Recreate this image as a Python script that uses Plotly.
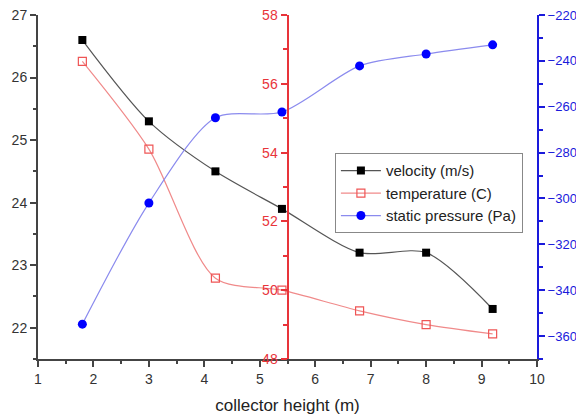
import plotly.graph_objects as go

# collector heights (m)
height = [1.8, 3.0, 4.2, 5.4, 6.8, 8.0, 9.2]
# air velocity (m/s)
velocity = [26.6, 25.3, 24.5, 23.9, 23.2, 23.2, 22.3]
# air temperature (C)
temperature = [56.65, 54.1, 50.35, 50.0, 49.4, 49.0, 48.73]
# static pressure (Pa)
pressure = [-354.8, -302.0, -264.8, -262.3, -242.2, -237.0, -233.0]

FONT = "Liberation Sans, Arial, sans-serif"
RED = "#e8343a"
BLUE = "#1a1adb"

fig = go.Figure()

fig.add_trace(go.Scatter(
    x=height, y=velocity, name="velocity (m/s)", yaxis="y",
    mode="lines+markers", line=dict(color="#555555", width=1.2, shape="spline", smoothing=0.8),
    marker=dict(symbol="square", size=8, color="black"),
))
fig.add_trace(go.Scatter(
    x=height, y=temperature, name="temperature (C)", yaxis="y2",
    mode="lines+markers", line=dict(color="#f08a8a", width=1.2, shape="spline", smoothing=0.8),
    marker=dict(symbol="square-open", size=8, color="#ef5555", line=dict(width=1.2)),
))
fig.add_trace(go.Scatter(
    x=height, y=pressure, name="static pressure (Pa)", yaxis="y3",
    mode="lines+markers", line=dict(color="#8b8bee", width=1.2, shape="spline", smoothing=0.8),
    marker=dict(symbol="circle", size=9, color="#0000ff"),
))

fig.update_layout(
    width=576, height=417,
    margin=dict(l=38, r=39, t=15, b=58, autoexpand=False),
    paper_bgcolor="white", plot_bgcolor="white",
    font=dict(family=FONT, size=13, color="#333333"),
    showlegend=True,
    legend=dict(
        x=0.595, y=0.598, xanchor="left", yanchor="top",
        bgcolor="white", bordercolor="#888888", borderwidth=1,
        font=dict(size=15, color="#222222"), tracegroupgap=0,
        itemwidth=40,
    ),
    xaxis=dict(
        range=[1, 10], dtick=1, tick0=1, automargin=False,
        showgrid=False, zeroline=False,
        showline=True, linecolor="#444444", linewidth=2,
        ticks="outside", ticklen=6, tickwidth=1.5, tickcolor="#444444",
        minor=dict(ticks="outside", dtick=0.5, ticklen=3, tickcolor="#444444"),
        title=dict(text="collector height (m)", font=dict(size=17, color="#222222"), standoff=13),
        tickfont=dict(size=14, color="#333333"),
    ),
    yaxis=dict(
        range=[21.5, 27], dtick=1, tick0=22, automargin=False,
        showgrid=False, zeroline=False,
        showline=True, linecolor="#444444", linewidth=2,
        ticks="outside", ticklen=6, tickwidth=1.5, tickcolor="#444444",
        minor=dict(ticks="outside", dtick=0.5, ticklen=3, tickcolor="#444444"),
        tickfont=dict(size=14, color="#333333"),
    ),
    yaxis2=dict(
        range=[48, 58], dtick=2, tick0=48, automargin=False,
        overlaying="y", anchor="free", position=0.5, side="left",
        showgrid=False, zeroline=False,
        showline=True, linecolor=RED, linewidth=2,
        ticks="outside", ticklen=6, tickwidth=1.5, tickcolor=RED,
        minor=dict(ticks="outside", dtick=1, ticklen=4, tickcolor=RED),
        tickfont=dict(size=14, color=RED),
    ),
    yaxis3=dict(
        range=[-370, -220], dtick=20, tick0=-360, automargin=False,
        overlaying="y", anchor="x", side="right",
        showgrid=False, zeroline=False,
        showline=True, linecolor=BLUE, linewidth=2,
        ticks="outside", ticklen=6, tickwidth=1.5, tickcolor=BLUE,
        minor=dict(ticks="outside", dtick=10, ticklen=4, tickcolor=BLUE),
        tickfont=dict(size=13, color=BLUE),
    ),
)

fig.write_html("out.html")
